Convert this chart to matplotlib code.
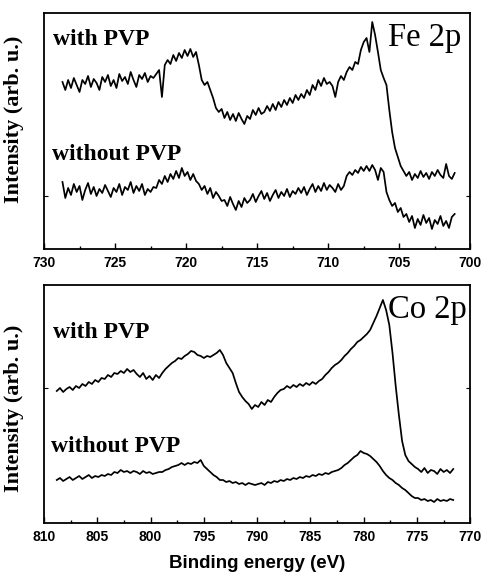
import numpy as np
import matplotlib
matplotlib.use("Agg")
import matplotlib.pyplot as plt
from matplotlib.ticker import MultipleLocator

# ---------------- data ----------------
# Fe 2p region: binding energy grid, 728.7 -> 701.1 eV in 0.2 eV steps
fe_energy_start, fe_energy_stop = 728.7, 701.1
fe_with_pvp = [
    168, 160, 170, 162, 172, 165, 158, 170, 166, 174, 163, 171, 167, 160, 173, 168, 175,
    164, 170, 162, 176, 169, 173, 166, 178, 170, 163, 175, 171, 177, 168, 174, 172,
    176, 180, 153, 185, 190, 186, 195, 189, 197, 192, 200, 194, 201, 193, 198,
    185, 170, 165, 168, 160, 152, 142, 138, 141,
    132, 138, 130, 136, 129, 137, 131, 126, 134,
    131, 140, 135, 142, 136, 138, 144, 139, 146, 140, 148, 143, 150, 145, 152, 147, 155, 150,
    156, 152, 160, 155, 165, 160, 170, 164, 172, 166, 168,
    164, 153, 168, 174, 170, 178, 183, 180, 188, 186, 200, 208,
    212, 198, 228, 215, 198, 180, 172,
    165, 140, 118, 102, 93, 84, 79,
    74, 78, 70, 76, 72, 79, 73, 77, 71, 78, 74, 80, 75, 72, 86, 74, 71, 77,
]
fe_without_pvp = [
    68, 52, 62, 55, 66, 58, 64, 50, 60, 67, 56, 63, 54, 61, 57, 65, 59,
    53, 62, 58, 66, 55, 63, 60, 68, 57, 64, 59, 66, 55, 61, 58, 63,
    62, 70, 66, 74, 68, 76, 71, 79, 72, 82, 74, 78, 70, 76, 69,
    66, 60, 64, 56, 62, 52, 58, 54, 49,
    50, 44, 53, 46, 40, 49, 43, 52, 47,
    50, 56, 48, 54, 59, 51, 57, 49, 55, 60, 52, 58, 54, 61, 53, 59, 56, 62,
    57, 63, 55, 61, 66, 58, 64, 59, 67, 60, 65,
    62, 58, 66, 60, 64, 74, 78, 75, 80, 77, 83, 79,
    84, 79, 85, 80, 70, 82, 78,
    58, 50, 44, 47, 38, 42, 33,
    36, 28, 34, 22, 31, 25, 35, 27, 32, 21, 30, 26, 34, 24, 29, 22, 33, 36,
]

# Co 2p region: binding energy grid, 808.8 -> 771.6 eV in 0.3 eV steps
co_energy_start, co_energy_stop = 808.8, 771.6
co_with_pvp = [
    132, 135, 131, 134, 136, 133, 137, 135, 139, 137, 141, 139, 143, 141, 145,
    144, 148, 146, 150, 149, 152, 150, 154, 151, 153,
    149, 146, 150, 144, 147, 143, 148, 145,
    150, 154, 157, 160, 162, 165, 164,
    167, 169, 172, 171, 168, 167, 165, 167, 166, 168, 170, 173,
    168, 160, 155, 150, 140, 131, 126, 122, 119, 114, 118,
    116, 121, 118, 123, 121, 126, 130, 133,
    134, 137, 135, 138, 136, 139, 137, 140, 138, 141, 139, 142,
    144, 148, 151, 155, 158, 160,
    163, 167, 170, 174, 177, 181, 183, 186, 189, 193,
    200, 207, 215, 223,
    213, 198, 170, 137, 108, 82, 68, 62, 59, 56,
    54, 51, 55, 50, 53, 52, 49, 54, 51, 53, 50, 54,
]
co_without_pvp = [
    43, 45, 42, 44, 46, 43, 45, 47, 44, 46, 48, 45, 47, 46, 48,
    47, 49, 48, 51, 50, 53, 51, 52, 50, 52,
    51, 49, 52, 50, 51, 49, 50, 51,
    51, 53, 54, 56, 57, 58, 60,
    58, 60, 59, 61, 60, 63, 57, 54, 51, 48, 46, 43,
    43, 41, 42, 40, 41, 39, 40, 38, 40, 39, 38,
    39, 40, 38, 41, 40, 42, 41, 43,
    42, 44, 43, 45, 44, 46, 45, 47, 46, 48, 47, 49,
    48, 50, 49, 51, 52, 53,
    55, 58, 60, 63, 66, 68, 72, 70, 69, 67,
    64, 61, 57, 52,
    48, 45, 43, 40, 38, 35, 33, 30, 27, 25,
    25, 23, 24, 22, 23, 21, 24, 22, 23, 22, 24, 23,
]

fe_labels = ["with PVP", "without PVP", "Fe 2p"]
co_labels = ["with PVP", "without PVP", "Co 2p"]
fe_xticks = [730, 725, 720, 715, 710, 705, 700]
co_xticks = [810, 805, 800, 795, 790, 785, 780, 775, 770]
xlabel = "Binding energy (eV)"
ylabel = "Intensity (arb. u.)"

fe_energy = np.linspace(fe_energy_start, fe_energy_stop, len(fe_with_pvp))
co_energy = np.linspace(co_energy_start, co_energy_stop, len(co_with_pvp))

# ---------------- figure ----------------
SERIF = "Liberation Serif"
SANS = "Liberation Sans"

fig = plt.figure(figsize=(4.85, 5.75), dpi=100)
ax1 = fig.add_axes([0.0907, 0.567, 0.879, 0.4104])
ax2 = fig.add_axes([0.0907, 0.0904, 0.879, 0.414])


def style(ax, xlim, ylim, xticks, ytick):
    ax.set_xlim(*xlim)
    ax.set_ylim(*ylim)
    ax.set_xticks(xticks)
    ax.xaxis.set_minor_locator(MultipleLocator(2.5))
    ax.set_yticks([ytick])
    ax.set_yticklabels([])
    ax.tick_params(axis="x", which="major", direction="in", length=4, width=1.0,
                   pad=5, labelsize=10)
    ax.tick_params(axis="x", which="minor", direction="in", length=2, width=1.0)
    ax.tick_params(axis="y", which="major", direction="in", length=3, width=0.8,
                   left=True, right=True)
    for lab in ax.get_xticklabels():
        lab.set_fontfamily(SANS)
        lab.set_fontweight("bold")
    for s in ax.spines.values():
        s.set_linewidth(1.3)
    ax.set_ylabel(ylabel, fontfamily=SERIF, fontweight="bold", fontsize=16, labelpad=8)


LW = 1.25
# Fe panel
ax1.plot(fe_energy, fe_with_pvp, color="black", lw=LW)
ax1.plot(fe_energy, fe_without_pvp, color="black", lw=LW)
style(ax1, (730, 700), (1, 237), fe_xticks, 54)
ax1.yaxis.set_label_coords(-0.047, 0.55)
ax1.text(729.4, 205, fe_labels[0], fontfamily=SERIF, fontweight="bold", fontsize=17, va="baseline")
ax1.text(729.45, 90, fe_labels[1], fontfamily=SERIF, fontweight="bold", fontsize=17, va="baseline")
ax1.text(705.8, 204, fe_labels[2], fontfamily=SERIF, fontsize=23.5, va="baseline")

# Co panel
ax2.plot(co_energy, co_with_pvp, color="black", lw=LW)
ax2.plot(co_energy, co_without_pvp, color="black", lw=LW)
style(ax2, (810, 770), (0, 238), co_xticks, 135)
ax2.yaxis.set_label_coords(-0.047, 0.48)
ax2.text(809.2, 185, co_labels[0], fontfamily=SERIF, fontweight="bold", fontsize=17, va="baseline")
ax2.text(809.3, 71, co_labels[1], fontfamily=SERIF, fontweight="bold", fontsize=17, va="baseline")
ax2.text(777.7, 205, co_labels[2], fontfamily=SERIF, fontsize=23.5, va="baseline")
ax2.set_xlabel(xlabel, fontfamily=SANS, fontweight="bold", fontsize=13.5, labelpad=8)

fig.savefig("out.png", dpi=100)
